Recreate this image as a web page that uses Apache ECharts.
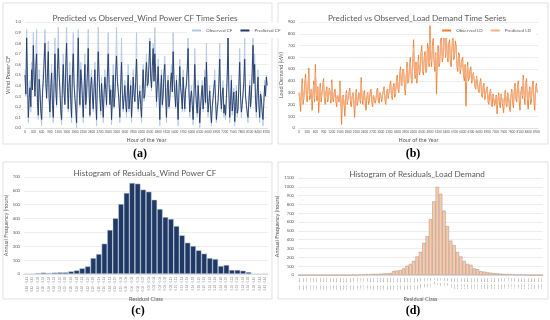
<!DOCTYPE html>
<html><head><meta charset="utf-8">
<script src="https://cdn.jsdelivr.net/npm/echarts@6/dist/echarts.min.js"></script>
<style>html,body{margin:0;padding:0;background:#fff}#c{width:550px;height:320px}</style>
</head><body><div id="c"></div>
<script>
const STEP_HOURS = 30;
const windObserved = [
0.55,0.30,0.93,0.48,0.05,0.25,0.45,0.15,0.62,0.38,0.90,0.52,0.35,0.70,0.93,0.20,0.08,0.55,0.40,0.12,
0.02,0.35,0.55,0.72,0.93,0.45,0.30,0.60,0.82,0.25,0.10,0.42,0.60,0.18,0.05,0.50,0.85,0.40,0.20,0.65,
0.95,0.58,0.40,0.12,0.03,0.45,0.70,0.35,0.25,0.68,0.95,0.40,0.15,0.48,0.62,0.22,0.05,0.60,0.90,0.45,
0.30,0.15,0.00,0.55,0.93,0.40,0.20,0.62,0.50,0.28,0.05,0.40,0.70,0.18,0.35,0.60,0.93,0.38,0.10,0.45,
0.55,0.32,0.15,0.42,0.62,0.25,0.02,0.50,0.95,0.55,0.30,0.12,0.48,0.30,0.05,0.35,0.55,0.40,0.20,0.58,
0.90,0.48,0.25,0.40,0.03,0.30,0.60,0.18,0.35,0.62,0.95,0.50,0.40,0.22,0.05,0.45,0.85,0.35,0.15,0.30,
0.45,0.22,0.10,0.38,0.60,0.15,0.30,0.45,0.05,0.28,0.55,0.35,0.25,0.50,0.90,0.40,0.15,0.30,0.40,0.20,
0.05,0.40,0.60,0.25,0.30,0.55,0.70,0.38,0.45,0.65,0.85,0.50,0.35,0.62,0.80,0.45,0.95,0.55,0.20,0.42,
0.65,0.35,0.02,0.40,0.55,0.20,0.30,0.58,0.68,0.32,0.05,0.42,0.50,0.18,0.25,0.48,0.60,0.35,0.90,0.52,
0.35,0.18,0.50,0.25,0.02,0.38,0.65,0.42,0.30,0.15,0.55,0.35,0.15,0.40,0.45,0.62,0.93,0.38,0.10,0.30,
0.40,0.20,0.03,0.32,0.75,0.40,0.20,0.10,0.45,0.25,0.00,0.18,0.35,0.45,0.15,0.30,0.55,0.22,0.80,0.35,
0.10,0.25,0.40,0.15,0.02,0.20,0.30,0.42,0.55,0.28,0.05,0.15,0.25,0.48,0.80,0.30,0.15,0.35,0.45,0.10,
0.20,0.08,0.30,0.55,0.90,0.35,0.05,0.28,0.50,0.12,0.25,0.38,0.02,0.20,0.40,0.10,0.15,0.45,0.75,0.30,
0.10,0.22,0.35,0.50,0.85,0.32,0.20,0.12,0.05,0.28,0.45,0.18,0.30,0.60,0.93,0.45,0.70,0.25,0.10,0.38,
0.55,0.20,0.05,0.35,0.30,0.12,0.02,0.25,0.45,0.30,0.50,0.42];
const windPredicted = [
0.50,0.32,0.85,0.45,0.10,0.28,0.38,0.20,0.55,0.36,0.78,0.48,0.30,0.58,0.70,0.24,0.12,0.46,0.35,0.16,
0.08,0.32,0.45,0.62,0.80,0.42,0.28,0.52,0.72,0.28,0.15,0.38,0.52,0.22,0.10,0.44,0.70,0.36,0.22,0.55,
0.75,0.50,0.35,0.16,0.08,0.40,0.60,0.32,0.22,0.58,0.80,0.38,0.18,0.42,0.50,0.25,0.10,0.52,0.70,0.40,
0.28,0.18,0.05,0.48,0.85,0.38,0.22,0.55,0.45,0.28,0.10,0.36,0.60,0.22,0.30,0.52,0.75,0.35,0.12,0.40,
0.48,0.30,0.18,0.38,0.55,0.26,0.08,0.44,0.72,0.48,0.28,0.16,0.42,0.28,0.10,0.32,0.48,0.36,0.22,0.50,
0.70,0.42,0.22,0.36,0.08,0.28,0.50,0.20,0.30,0.52,0.68,0.44,0.35,0.24,0.10,0.40,0.62,0.32,0.18,0.28,
0.40,0.24,0.15,0.34,0.50,0.18,0.28,0.40,0.10,0.26,0.48,0.32,0.25,0.44,0.65,0.36,0.18,0.28,0.35,0.22,
0.10,0.36,0.55,0.28,0.32,0.50,0.62,0.40,0.42,0.60,0.82,0.48,0.38,0.58,0.75,0.44,0.70,0.50,0.25,0.40,
0.58,0.34,0.08,0.36,0.50,0.22,0.30,0.52,0.60,0.30,0.10,0.38,0.45,0.20,0.28,0.44,0.52,0.34,0.72,0.46,
0.32,0.20,0.45,0.26,0.08,0.34,0.58,0.38,0.30,0.18,0.48,0.32,0.18,0.36,0.40,0.55,0.75,0.35,0.15,0.28,
0.35,0.22,0.08,0.30,0.60,0.36,0.22,0.14,0.40,0.26,0.05,0.20,0.32,0.40,0.18,0.28,0.48,0.24,0.62,0.32,
0.15,0.25,0.35,0.18,0.05,0.20,0.28,0.38,0.45,0.26,0.08,0.18,0.25,0.42,0.65,0.30,0.18,0.32,0.38,0.14,
0.22,0.12,0.28,0.48,0.85,0.34,0.10,0.26,0.45,0.16,0.25,0.34,0.06,0.20,0.35,0.14,0.18,0.40,0.62,0.30,
0.15,0.22,0.32,0.44,0.65,0.30,0.22,0.15,0.10,0.26,0.40,0.20,0.30,0.52,0.78,0.42,0.60,0.26,0.15,0.34,
0.48,0.22,0.10,0.32,0.28,0.15,0.08,0.24,0.40,0.30,0.48,0.40];
const loadObserved = [
300,230,140,330,420,200,250,380,460,280,220,350,510,240,260,330,150,280,400,220,
540,300,230,350,130,260,380,220,280,360,420,250,200,310,350,220,260,340,300,210,
410,260,220,300,330,230,180,280,290,220,400,250,30,230,280,200,100,250,320,200,
250,300,340,200,180,270,300,200,90,260,330,190,220,300,280,210,430,250,200,290,
320,210,150,270,300,200,230,310,330,220,180,280,290,210,240,320,340,230,210,300,
280,220,230,320,350,240,200,300,330,250,260,360,400,270,240,350,380,260,280,400,
450,330,300,460,520,360,350,500,480,340,280,450,560,380,400,520,600,420,380,560,
750,500,420,560,380,480,620,450,480,640,700,480,450,600,650,470,500,720,680,520,
870,600,520,700,760,560,480,640,290,560,700,520,550,740,800,560,600,780,850,600,
800,620,560,720,750,540,520,700,820,580,600,740,700,520,480,640,620,460,450,580,
600,440,400,540,185,420,560,400,420,500,520,380,370,470,480,350,330,440,450,320,
300,380,420,280,260,360,380,240,230,330,350,220,200,300,330,200,180,290,300,190,
220,280,120,240,300,200,170,290,280,180,130,260,320,200,180,300,260,170,140,280,
330,220,170,320,380,240,220,360,400,230,150,300,350,250,450,280,200,380,420,240,
160,300,350,200,230,360,400,230,150,320,380,300];
const loadPredicted = [
290,250,220,320,380,240,280,360,420,290,260,340,460,270,290,330,230,290,370,250,
470,310,270,340,220,280,350,250,290,350,390,270,240,310,330,240,270,330,310,240,
380,270,250,300,310,240,230,280,280,240,360,260,180,250,270,220,200,260,300,220,
260,290,310,230,230,270,290,220,200,270,310,220,240,290,270,230,380,260,240,290,
300,230,220,270,290,230,250,300,310,240,230,280,280,230,250,310,320,250,240,290,
280,250,250,310,330,260,240,300,320,270,270,350,370,280,260,340,360,280,290,380,
420,350,320,440,490,380,360,480,460,360,320,440,520,400,410,500,560,430,400,530,
680,520,450,540,420,500,580,480,500,610,650,500,480,590,620,500,520,680,640,540,
760,620,560,680,700,580,520,630,480,580,660,550,580,710,740,590,620,740,780,620,
760,640,590,690,710,570,560,680,760,600,620,700,670,550,520,620,600,490,490,570,
570,460,430,520,380,430,530,420,440,490,500,400,390,460,460,370,360,430,430,340,
320,370,400,300,280,350,360,260,260,320,340,240,240,300,320,230,220,280,290,220,
240,270,190,250,280,220,210,280,270,210,200,260,300,220,220,290,260,210,210,270,
310,240,220,310,350,260,250,340,370,250,230,300,330,270,410,300,250,370,390,260,
230,300,330,240,260,350,370,250,230,320,360,310];
const windResidFreq = [0,3,7,10,7,10,12,12,19,26,41,55,115,144,219,318,402,505,585,657,652,609,594,536,469,411,397,346,279,226,202,171,147,115,108,58,65,29,29,24,14,0,0,3];
const windBinStart = -0.44, windBinWidth = 0.02;
const loadResidFreq = [0,0,0,0,0,0,0,0,0,0,0,0,0,0,0,0,5,0,5,6,8,10,12,12,14,16,20,22,45,50,55,75,105,125,160,210,262,365,440,635,835,1000,920,730,555,390,340,260,210,160,125,115,75,65,42,38,30,26,20,18,15,11,10,8,6,3,6,3,0,0,0,0,0];
const loadBinStart = -820, loadBinWidth = 20;

const windClasses = windResidFreq.map((_, i) => {
  const a = windBinStart + i*windBinWidth, b = a + windBinWidth;
  return a.toFixed(2) + ' - ' + b.toFixed(2);
});
const loadClasses = loadResidFreq.map((_, i) => {
  const a = loadBinStart + i*loadBinWidth, b = a + loadBinWidth;
  return a + ' - ' + b;
});
const pairs = arr => arr.map((v, i) => [i*STEP_HOURS, v]);

const F = 'Lato, "Open Sans", sans-serif';
const gray = '#595959';
const chart = echarts.init(document.getElementById('c'), null, {renderer:'canvas'});
const tsX = (gi) => ({gridIndex: gi, type:'value', min:0, max:8760, interval:300,
  name:'Hour of the Year', nameLocation:'middle', nameGap:9,
  nameTextStyle:{fontSize:5.5, color:gray, fontFamily:F},
  axisLine:{lineStyle:{color:'#d9d9d9', width:0.6}}, axisTick:{show:false},
  splitLine:{show:false},
  axisLabel:{fontSize:3, color:gray, margin:3, showMaxLabel:false, fontFamily:F, formatter:v=>String(v)}});
const yBase = (gi, name, min, max, interval, fmt, gap) => ({gridIndex: gi, type:'value', min, max, interval,
  name, nameLocation:'middle', nameGap:gap,
  nameTextStyle:{fontSize:5.5, color:gray, fontFamily:F},
  axisLine:{show:false}, axisTick:{show:false},
  splitLine:{lineStyle:{color:'#e3e3e3', width:0.6}},
  axisLabel:{fontSize:4.2, color:gray, margin:4, formatter: fmt, fontFamily:F}});
const catX = (gi, data, fs) => ({gridIndex: gi, type:'category', data,
  name:'Residual Class', nameLocation:'middle', nameGap:21,
  nameTextStyle:{fontSize:5.5, color:gray, fontFamily:F},
  axisLine:{lineStyle:{color:'#d9d9d9', width:0.6}}, axisTick:{show:false},
  axisLabel:{interval:0, rotate:90, fontSize:fs, color:'#7f7f7f', margin:3, fontFamily:F}});
const frame = (x, y, w, h) => ({type:'rect', shape:{x, y, width:w, height:h},
  style:{fill:'none', stroke:'#d9d9d9', lineWidth:0.8}, silent:true});
const lab = (t, x, y) => ({type:'text', x, y, style:{text:t, font:'bold 12px "Liberation Serif", serif', fill:'#000', textAlign:'center', textVerticalAlign:'middle'}});
const ttl = (t, x, y) => ({text:t, left:x, top:y, textAlign:'center',
  textStyle:{fontSize:8.2, fontWeight:'normal', color:gray, fontFamily:F}});

chart.setOption({
  animation:false,
  title:[ttl('Predicted vs Observed_Wind Power CF Time Series',140,9),
         ttl('Predicted vs Observed_Load Demand Time Series',412,9),
         ttl('Histogram of Residuals_Wind Power CF',140,164),
         ttl('Histogram of Residuals_Load Demand',412,165)],
  legend:[
    {data:['Observed CF','Predicted CF'], left:187, top:23, itemWidth:9, itemHeight:2, itemGap:8,
     textStyle:{fontSize:4.6, color:gray, fontFamily:F}, icon:'rect', backgroundColor:'#fff'},
    {data:['Observed LD','Predicted LD'], right:14, top:23, width:120, itemWidth:9, itemHeight:2, itemGap:8,
     textStyle:{fontSize:4.6, color:gray, fontFamily:F}, icon:'rect', backgroundColor:'#fff'}],
  grid:[
    {left:25, top:22, width:243, height:106},
    {left:299, top:22, width:239, height:106},
    {left:24, top:177, width:244, height:97},
    {left:298, top:178, width:245, height:97}],
  xAxis:[tsX(0), tsX(1), catX(2, windClasses, 2.8), catX(3, loadClasses, 2.5)],
  yAxis:[
    yBase(0,'Wind Power CF',0,1,0.1,v=>v.toFixed(1),13),
    yBase(1,'Load Demand (kW)',0,900,100,v=>v,13),
    yBase(2,'Annual Frequency (hours)',0,700,100,v=>v,13),
    yBase(3,'Annual Frequency (hours)',0,1100,100,v=>v,15)],
  series:[
    {name:'Observed CF', type:'line', xAxisIndex:0, yAxisIndex:0, data:pairs(windObserved),
     showSymbol:false, lineStyle:{color:'#b4c7e7', width:0.9}, itemStyle:{color:'#b4c7e7'}},
    {name:'Predicted CF', type:'line', xAxisIndex:0, yAxisIndex:0, data:pairs(windPredicted),
     showSymbol:false, lineStyle:{color:'#1f3864', width:0.9}, itemStyle:{color:'#1f3864'}},
    {name:'Observed LD', type:'line', xAxisIndex:1, yAxisIndex:1, data:pairs(loadObserved),
     showSymbol:false, lineStyle:{color:'#ed7d31', width:0.9}, itemStyle:{color:'#ed7d31'}},
    {name:'Predicted LD', type:'line', xAxisIndex:1, yAxisIndex:1, data:pairs(loadPredicted),
     showSymbol:false, lineStyle:{color:'#f4b183', width:0.9}, itemStyle:{color:'#f4b183'}},
    {type:'bar', xAxisIndex:2, yAxisIndex:2, data:windResidFreq, barCategoryGap:'0%',
     itemStyle:{color:'#203864', borderColor:'#c5d0e4', borderWidth:0.5}},
    {type:'bar', xAxisIndex:3, yAxisIndex:3, data:loadResidFreq, barCategoryGap:'0%',
     itemStyle:{color:'#f8cbad', borderColor:'#a88f80', borderWidth:0.5}}
  ],
  graphic:[frame(3,3,269,141), frame(278,3,270,141), frame(3,162,269,137), frame(278,162,270,137),
    lab('(a)',140,154), lab('(b)',413,154), lab('(c)',138,311), lab('(d)',413,311)]
});
</script></body></html>
